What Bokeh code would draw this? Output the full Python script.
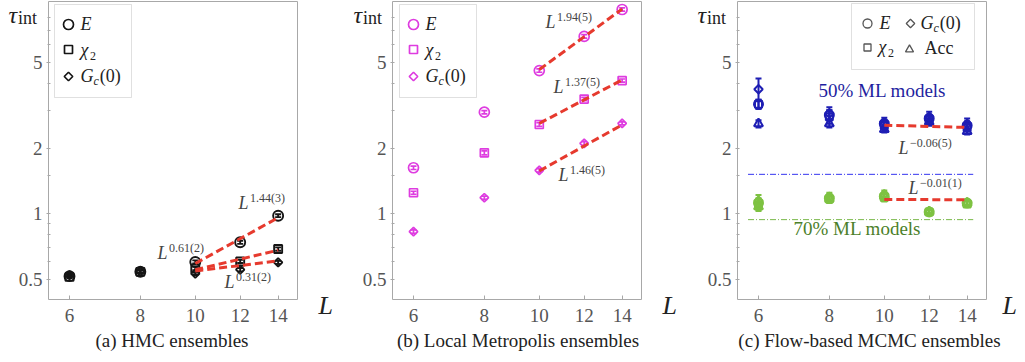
import math
from bokeh.plotting import figure
from bokeh.layouts import row
from bokeh.models import (Label, FixedTicker, Whisker, ColumnDataSource, Range1d,
                          BoxAnnotation, TeeHead, NumeralTickFormatter)
from bokeh.embed import file_html
from bokeh.resources import INLINE

FONT = "Liberation Serif"

# ---------------- data ----------------
L_values = [6, 8, 10, 12, 14]
fit_L = [10, 14]

# (a) HMC ensembles
hmc_E = [0.516, 0.541, 0.600, 0.739, 0.980]
hmc_E_err = [0.008, 0.008, 0.010, 0.012, 0.015]
hmc_chi2 = [0.512, 0.540, 0.560, 0.603, 0.688]
hmc_chi2_err = [0.008, 0.008, 0.010, 0.010, 0.012]
hmc_Gc = [0.522, 0.542, 0.530, 0.553, 0.597]
hmc_Gc_err = [0.008, 0.008, 0.008, 0.010, 0.010]
hmc_fit_E = [0.59, 0.96]
hmc_fit_chi2 = [0.552, 0.68]
hmc_fit_Gc = [0.545, 0.607]

# (b) Local Metropolis ensembles
met_E = [1.63, 2.94, 4.57, 6.57, 8.74]
met_E_err = [0.03, 0.05, 0.08, 0.12, 0.15]
met_chi2 = [1.25, 1.91, 2.58, 3.38, 4.11]
met_chi2_err = [0.02, 0.04, 0.05, 0.06, 0.07]
met_Gc = [0.828, 1.186, 1.586, 2.11, 2.61]
met_Gc_err = [0.015, 0.02, 0.03, 0.04, 0.04]
met_fit_E = [4.62, 8.78]
met_fit_chi2 = [2.61, 4.14]
met_fit_Gc = [1.575, 2.57]

# (c) Flow-based MCMC ensembles, 50% ML models
f50_E = [3.20, 2.85, 2.60, 2.75, 2.55]
f50_E_err = [0.15, 0.15, 0.10, 0.12, 0.12]
f50_chi2 = [3.20, 2.80, 2.55, 2.70, 2.50]
f50_chi2_err = [0.15, 0.20, 0.12, 0.15, 0.15]
f50_Gc = [3.75, 2.90, 2.65, 2.80, 2.60]
f50_Gc_err = [0.45, 0.20, 0.12, 0.15, 0.15]
f50_Acc = [2.60, 2.60, 2.45, 2.65, 2.40]
f50_Acc_err = [0.10, 0.10, 0.08, 0.10, 0.08]
f50_fit = [2.56, 2.50]
f50_ref = 1.52

# (c) 70% ML models
f70_E = [1.12, 1.18, 1.20, 1.02, 1.12]
f70_E_err = [0.06, 0.05, 0.05, 0.02, 0.03]
f70_chi2 = [1.10, 1.17, 1.19, 1.02, 1.11]
f70_chi2_err = [0.06, 0.05, 0.05, 0.02, 0.03]
f70_Gc = [1.15, 1.20, 1.23, 1.03, 1.13]
f70_Gc_err = [0.07, 0.05, 0.05, 0.02, 0.03]
f70_Acc = [1.08, 1.17, 1.21, 1.02, 1.12]
f70_Acc_err = [0.05, 0.04, 0.04, 0.02, 0.03]
f70_fit = [1.165, 1.16]
f70_ref = 0.94
ref_L_span = [5.75, 14.35]

x_ticks = [6, 8, 10, 12, 14]
y_ticks = [0.5, 1, 2, 5]
y_minor = [0.6, 0.7, 0.8, 0.9, 1.5, 3, 4, 6, 7, 8]
captions = ["(a) HMC ensembles", "(b) Local Metropolis ensembles",
            "(c) Flow-based MCMC ensembles"]

# ---------------- styling / layout ----------------
BLACK = "#151515"
MAGENTA = "#DE3CE0"
BLUE = "#1E1EB4"
GREEN = "#7EC242"
RED = "#E63A2E"
GRAY = "#a8a8a8"
TXT = "#444444"

H = 360            # figure height (px)
BOX_W = 249        # visible plot box width (px)
BOX_TOP, BOX_BOTTOM = 1, 299   # px from top
BASE_FIX = 0.33    # baseline correction (fraction of font size)


def yd(py):
    # picture-row -> tau value (log axis, 217 px per decade, tau=1 at row 213.3)
    return 10 ** ((213.3 - py) / 217.0)


def xd(px, FL):
    # picture-column -> L value for a box whose left edge is at column FL
    return 10 ** (math.log10(6) + (px - FL - 21) / 567.0)


Y0, Y1 = yd(BOX_BOTTOM), yd(BOX_TOP)


W_ROMAN = {'.': 0.25, '(': 0.333, ')': 0.333, '−': 0.564, '%': 0.833, ' ': 0.25,
           'A': 0.722, 'c': 0.444, 'i': 0.278, 'n': 0.5, 't': 0.278}
W_ITAL = {'L': 0.556, 'E': 0.611, 'G': 0.722, 'c': 0.444, 'τ': 0.40, 'χ': 0.5}


def tw(s, size, italic):
    tab = W_ITAL if italic else W_ROMAN
    return sum(tab.get(ch, 0.5) for ch in s) * size


def text_at(p, FL, x, y, t, size, italic, color, align="left"):
    p.add_layout(Label(x=xd(x, FL), y=yd(y - BASE_FIX * size), text=t, text_font=FONT,
                       text_font_size=f"{size}px",
                       text_font_style="italic" if italic else "normal",
                       text_color=color, text_baseline="alphabetic",
                       text_align=align))


def rich(p, FL, x, y, parts, color):
    cx = x
    for (t, size, it, rise, extra) in parts:
        cx += extra
        text_at(p, FL, cx, y - rise, t, size, it, color)
        cx += tw(t, size, it)


def power_label(p, FL, x, y, expo):
    rich(p, FL, x, y, [("L", 18, True, 0, 0), (expo, 12, False, 7, 1.5)], TXT)


def make_fig(PX0, W, FL):
    X0, X1 = xd(FL, FL), xd(FL + BOX_W, FL)
    p = figure(width=W, height=H, x_axis_type="log", y_axis_type="log",
               x_range=Range1d(xd(PX0, FL), xd(PX0 + W, FL)),
               y_range=Range1d(yd(H), yd(0)),
               output_backend="svg", toolbar_location=None, min_border=0)
    p.grid.visible = False
    p.outline_line_color = None
    p.xaxis.fixed_location = Y0
    p.yaxis.fixed_location = X0
    p.xaxis.ticker = FixedTicker(ticks=x_ticks, minor_ticks=[])
    p.yaxis.ticker = FixedTicker(ticks=y_ticks, minor_ticks=y_minor)
    for ax in (p.xaxis, p.yaxis):
        ax.formatter = NumeralTickFormatter(format="0.[0]")
        ax.axis_line_color = None
        ax.major_tick_line_color = GRAY
        ax.minor_tick_line_color = GRAY
        ax.major_label_text_font = FONT
        ax.major_label_text_font_size = "19px"
        ax.major_label_text_color = "#555555"
    p.xaxis.major_tick_in = 4
    p.xaxis.major_tick_out = 0
    p.xaxis.major_label_standoff = 9
    p.yaxis.major_tick_in = 2
    p.yaxis.major_tick_out = 2
    p.yaxis.minor_tick_in = 2
    p.yaxis.minor_tick_out = 1
    p.yaxis.major_label_standoff = 4
    p.add_layout(BoxAnnotation(left=X0, right=X1, bottom=Y0, top=Y1, fill_color=None,
                               line_color=GRAY, line_width=1, line_alpha=1))
    return p


def series(p, vals, errs, marker, size, color, angle=0.0, lw=1.7, cap=6):
    src = ColumnDataSource(dict(x=L_values, y=vals,
                                lo=[v - e for v, e in zip(vals, errs)],
                                hi=[v + e for v, e in zip(vals, errs)]))
    p.add_layout(Whisker(source=src, base="x", upper="hi", lower="lo", dimension="height",
                         line_color=color, line_width=lw,
                         upper_head=TeeHead(size=cap, line_color=color, line_width=lw),
                         lower_head=TeeHead(size=cap, line_color=color, line_width=lw)))
    p.scatter("x", "y", source=src, marker=marker, size=size, angle=angle,
              fill_color=None, line_color=color, line_width=lw)


def fit(p, vals):
    p.line(fit_L, vals, line_color=RED, line_width=3, line_dash="8 4")


def legend_box(p, FL, l, r, t, b):
    p.add_layout(BoxAnnotation(left=xd(l, FL), right=xd(r, FL), top=yd(t), bottom=yd(b),
                               fill_color="white", fill_alpha=1, line_color="#999999",
                               line_width=1, level="underlay"))


def legend_marker(p, FL, px, py, marker, size, color, angle=0.0, lw=1.7):
    p.scatter([xd(px, FL)], [yd(py)], marker=marker, size=size, angle=angle,
              fill_color=None, line_color=color, line_width=lw)


def frame_texts(p, FL, tau_x, L_x, cap_x, caption):
    rich(p, FL, tau_x, 22, [("τ", 24, True, 0, 0), ("int", 18, False, -1, 0)], "#222222")
    rich(p, FL, L_x, 314, [("L", 26, True, 0, 0)], "#222222")
    text_at(p, FL, cap_x, 346, caption, 19, False, "#222222", align="center")


def std_legend(p, FL, x0, color):
    legend_box(p, FL, x0, x0 + 77, 4, 97)
    mx = x0 + 14
    tx = x0 + 26
    legend_marker(p, FL, mx, 24, "circle", 10, color)
    legend_marker(p, FL, mx, 49, "square", 8, color)
    legend_marker(p, FL, mx, 76, "square", 6, color, angle=math.pi / 4)
    rich(p, FL, tx, 29, [("E", 18, True, 0, 0)], "#222222")
    rich(p, FL, tx, 55, [("χ", 18, True, 0, 0), ("2", 12, False, -4, 0.5)], "#222222")
    rich(p, FL, tx, 81, [("G", 18, True, 0, 0), ("c", 12, True, -3, 0),
                         ("(0)", 18, False, 0, 1)], "#222222")


# ---------------- panel (a) ----------------
FLa = 48
pa = make_fig(0, 340, FLa)
series(pa, hmc_E, hmc_E_err, "circle", 10, BLACK, lw=1.9)
series(pa, hmc_chi2, hmc_chi2_err, "square", 8, BLACK, lw=1.9)
series(pa, hmc_Gc, hmc_Gc_err, "square", 6, BLACK, angle=math.pi / 4, lw=1.9)
fit(pa, hmc_fit_E)
fit(pa, hmc_fit_chi2)
fit(pa, hmc_fit_Gc)
std_legend(pa, FLa, 54, BLACK)
power_label(pa, FLa, 238, 208, "1.44(3)")
power_label(pa, FLa, 157, 258, "0.61(2)")
power_label(pa, FLa, 224, 287, "0.31(2)")
frame_texts(pa, FLa, 8, 318, 171.5, captions[0])

# ---------------- panel (b) ----------------
FLb = 392
pb = make_fig(340, 345, FLb)
series(pb, met_E, met_E_err, "circle", 10, MAGENTA)
series(pb, met_chi2, met_chi2_err, "square", 8, MAGENTA)
series(pb, met_Gc, met_Gc_err, "square", 6, MAGENTA, angle=math.pi / 4)
fit(pb, met_fit_E)
fit(pb, met_fit_chi2)
fit(pb, met_fit_Gc)
std_legend(pb, FLb, 399, MAGENTA)
power_label(pb, FLb, 545, 27, "1.94(5)")
power_label(pb, FLb, 553, 92, "1.37(5)")
power_label(pb, FLb, 558, 180, "1.46(5)")
frame_texts(pb, FLb, 353, 662, 517.5, captions[1])

# ---------------- panel (c) ----------------
FLc = 737
pc = make_fig(685, 340, FLc)
pc.line(ref_L_span, [f50_ref, f50_ref], line_color="#3434F0", line_width=1, line_dash="6 2 1 2")
pc.line(ref_L_span, [f70_ref, f70_ref], line_color="#7AB84A", line_width=1, line_dash="6 2 1 2")
for col, E, Ee, C, Ce, G, Ge, A, Ae in (
        (BLUE, f50_E, f50_E_err, f50_chi2, f50_chi2_err, f50_Gc, f50_Gc_err, f50_Acc, f50_Acc_err),
        (GREEN, f70_E, f70_E_err, f70_chi2, f70_chi2_err, f70_Gc, f70_Gc_err, f70_Acc, f70_Acc_err)):
    series(pc, A, Ae, "triangle", 9, col, lw=2)
    series(pc, E, Ee, "circle", 9, col, lw=2)
    series(pc, C, Ce, "square", 7, col, lw=2)
    series(pc, G, Ge, "square", 6, col, angle=math.pi / 4, lw=2)
fit(pc, f50_fit)
fit(pc, f70_fit)
legend_box(pc, FLc, 851, 974, 3, 69)
legend_marker(pc, FLc, 867, 23, "circle", 9, "#555555", lw=1.3)
legend_marker(pc, FLc, 910, 23, "square", 6, "#555555", angle=math.pi / 4, lw=1.3)
legend_marker(pc, FLc, 867, 47, "square", 7, "#555555", lw=1.3)
legend_marker(pc, FLc, 909, 49, "triangle", 8, "#555555", lw=1.3)
rich(pc, FLc, 879, 28, [("E", 18, True, 0, 0)], "#222222")
rich(pc, FLc, 920, 28, [("G", 18, True, 0, 0), ("c", 12, True, -3, 0),
                        ("(0)", 18, False, 0, 1)], "#222222")
rich(pc, FLc, 878, 52, [("χ", 18, True, 0, 0), ("2", 12, False, -4, 0.5)], "#222222")
rich(pc, FLc, 924, 53, [("Acc", 18, False, 0, 0)], "#222222")
rich(pc, FLc, 818, 96, [("50% ML models", 19, False, 0, 0)], "#1F1FA0")
rich(pc, FLc, 793, 234, [("70% ML models", 19, False, 0, 0)], "#4C7F2A")
power_label(pc, FLc, 898, 153, "−0.06(5)")
power_label(pc, FLc, 908, 193, "−0.01(1)")
frame_texts(pc, FLc, 697, 1002, 869, captions[2])

layout = row(pa, pb, pc)
open("out.html", "w").write(file_html(layout, INLINE))
